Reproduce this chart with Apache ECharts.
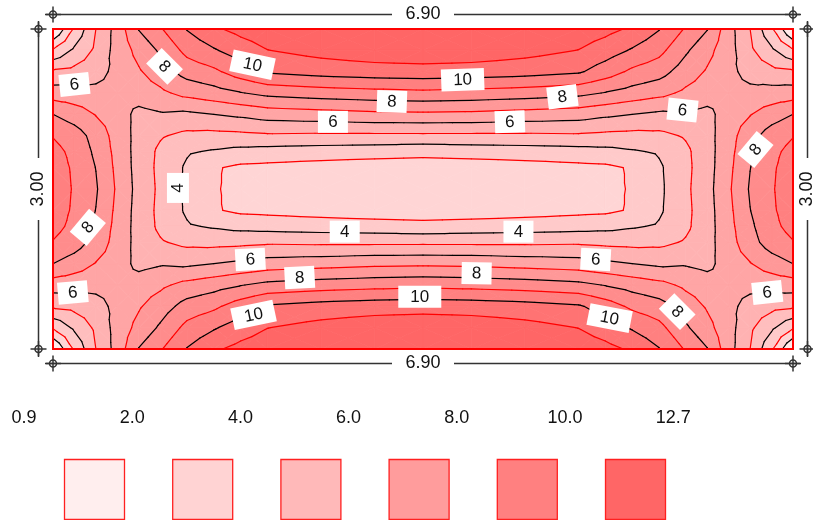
<!DOCTYPE html>
<html><head><meta charset="utf-8">
<script src="https://cdn.jsdelivr.net/npm/echarts@6/dist/echarts.min.js"></script>
<style>html,body{margin:0;padding:0;background:#fff}#chart{width:813px;height:520px}</style>
</head><body><div id="chart"></div>
<script>
// ---------------- DATA ----------------
const plateWidth = 6.90;
const plateHeight = 3.00;
const xNodes = [0, 0.2, 0.4, 0.6, 0.8, 1.0, 1.25, 1.5, 1.75, 2.0, 2.5, 3.0, 3.45, 3.9, 4.4, 4.9, 5.15, 5.4, 5.65, 5.9, 6.1, 6.3, 6.5, 6.7, 6.9];
const yNodes = [0, 0.2, 0.4, 0.6, 0.8, 1.0, 1.15, 1.3, 1.5, 1.7, 1.85, 2.0, 2.2, 2.4, 2.6, 2.8, 3.0];
const values = [
  [0.9, 3.15, 5.0, 6.4, 8.05, 8.9, 10.05, 10.85, 11.3, 11.6, 12.0, 12.3, 12.5, 12.3, 12.0, 11.6, 11.3, 10.85, 10.05, 8.9, 8.05, 6.4, 5.0, 3.15, 0.9],
  [3.1, 4.2, 5.2, 6.4, 7.3, 8.15, 9.3, 9.9, 10.5, 10.98, 11.35, 11.6, 11.7, 11.6, 11.35, 10.98, 10.5, 9.9, 9.3, 8.15, 7.3, 6.4, 5.2, 4.2, 3.1],
  [5.15, 5.3, 5.6, 6.3, 6.9, 7.5, 8.4, 8.8, 9.5, 10.13, 10.4, 10.55, 10.6, 10.55, 10.4, 10.13, 9.5, 8.8, 8.4, 7.5, 6.9, 6.3, 5.6, 5.3, 5.15],
  [6.5, 6.4, 6.3, 6.4, 6.5, 6.8, 7.3, 7.6, 7.95, 8.27, 8.5, 8.65, 8.75, 8.65, 8.5, 8.27, 7.95, 7.6, 7.3, 6.8, 6.5, 6.4, 6.3, 6.4, 6.5],
  [8.0, 7.5, 6.95, 6.5, 5.7, 5.9, 5.8, 6.0, 6.2, 6.45, 6.6, 6.75, 6.8, 6.75, 6.6, 6.45, 6.2, 6.0, 5.8, 5.9, 5.7, 6.5, 6.95, 7.5, 8.0],
  [8.95, 8.5, 7.6, 6.6, 5.65, 5.1, 4.75, 4.7, 4.75, 4.85, 4.8, 4.8, 4.8, 4.8, 4.8, 4.85, 4.75, 4.7, 4.75, 5.1, 5.65, 6.6, 7.6, 8.5, 8.95],
  [9.3, 8.75, 7.8, 6.68, 5.6, 4.8, 4.1, 3.9, 3.7, 3.6, 3.5, 3.4, 3.3, 3.4, 3.5, 3.6, 3.7, 3.9, 4.1, 4.8, 5.6, 6.68, 7.8, 8.75, 9.3],
  [9.5, 8.85, 7.98, 6.75, 5.6, 4.75, 3.85, 3.1, 2.8, 2.75, 2.6, 2.5, 2.5, 2.5, 2.6, 2.75, 2.8, 3.1, 3.85, 4.75, 5.6, 6.75, 7.98, 8.85, 9.5],
  [9.6, 8.9, 8.1, 6.85, 5.65, 4.8, 3.8, 3.1, 2.7, 2.55, 2.4, 2.3, 2.3, 2.3, 2.4, 2.55, 2.7, 3.1, 3.8, 4.8, 5.65, 6.85, 8.1, 8.9, 9.6],
  [9.5, 8.85, 7.98, 6.75, 5.6, 4.75, 3.85, 3.1, 2.8, 2.75, 2.6, 2.5, 2.5, 2.5, 2.6, 2.75, 2.8, 3.1, 3.85, 4.75, 5.6, 6.75, 7.98, 8.85, 9.5],
  [9.3, 8.75, 7.8, 6.68, 5.6, 4.8, 4.1, 3.9, 3.7, 3.6, 3.5, 3.4, 3.3, 3.4, 3.5, 3.6, 3.7, 3.9, 4.1, 4.8, 5.6, 6.68, 7.8, 8.75, 9.3],
  [8.95, 8.5, 7.6, 6.6, 5.65, 5.1, 4.75, 4.7, 4.75, 4.85, 4.8, 4.8, 4.8, 4.8, 4.8, 4.85, 4.75, 4.7, 4.75, 5.1, 5.65, 6.6, 7.6, 8.5, 8.95],
  [8.0, 7.5, 6.95, 6.5, 5.7, 5.9, 5.8, 6.0, 6.2, 6.45, 6.6, 6.75, 6.8, 6.75, 6.6, 6.45, 6.2, 6.0, 5.8, 5.9, 5.7, 6.5, 6.95, 7.5, 8.0],
  [6.5, 6.4, 6.3, 6.4, 6.5, 6.8, 7.3, 7.6, 7.95, 8.27, 8.5, 8.65, 8.75, 8.65, 8.5, 8.27, 7.95, 7.6, 7.3, 6.8, 6.5, 6.4, 6.3, 6.4, 6.5],
  [5.15, 5.3, 5.6, 6.3, 6.9, 7.5, 8.4, 8.8, 9.5, 10.13, 10.4, 10.55, 10.6, 10.55, 10.4, 10.13, 9.5, 8.8, 8.4, 7.5, 6.9, 6.3, 5.6, 5.3, 5.15],
  [3.1, 4.2, 5.2, 6.4, 7.3, 8.15, 9.3, 9.9, 10.5, 10.98, 11.35, 11.6, 11.7, 11.6, 11.35, 10.98, 10.5, 9.9, 9.3, 8.15, 7.3, 6.4, 5.2, 4.2, 3.1],
  [0.9, 3.15, 5.0, 6.4, 8.05, 8.9, 10.05, 10.85, 11.3, 11.6, 12.0, 12.3, 12.5, 12.3, 12.0, 11.6, 11.3, 10.85, 10.05, 8.9, 8.05, 6.4, 5.0, 3.15, 0.9]
];
const levels = [1, 2, 3, 4, 5, 6, 7, 8, 9, 10, 11];
const bandColors = ['#fff3f3', '#ffeaea', '#ffd5d5', '#ffcaca', '#ffbebe', '#ffb2b2', '#ffa5a5', '#ff9898', '#ff8c8c', '#ff8080', '#ff7373', '#ff6666'];

const labelX = [0.20, 1.04, 1.86, 3.82, 3.16, 4.75, 2.61, 4.26, 5.87, 6.55, 1.165, 0.325, 0.185, 2.72, 4.34, 1.84, 5.06, 2.30, 3.95, 3.42, 1.87, 5.19, 5.82, 6.66];
const labelY = [0.52, 0.35, 0.335, 0.475, 0.68, 0.635, 0.87, 0.87, 0.76, 1.13, 1.49, 1.86, 2.47, 1.90, 1.90, 2.16, 2.16, 2.33, 2.29, 2.51, 2.68, 2.71, 2.65, 2.47];
const labelText = ['6', '8', '10', '10', '8', '8', '6', '6', '6', '8', '4', '8', '6', '4', '4', '6', '6', '8', '8', '10', '10', '10', '8', '6'];
const labelAngle = [6, -45, -12, 2, -2, 7, 0, 2, -6, 50, 90, 50, 5, 0, 0, 3, -3, 3, -1, 0, 12, -11, -45, 6];

const legendBreaks = [0.9, 2.0, 4.0, 6.0, 8.0, 10.0, 12.7];
const legendColors = ['#ffeeee', '#ffd3d3', '#ffb9b9', '#ff9c9c', '#ff8080', '#ff6666'];

// ---------------- GEOMETRY ----------------
const FONT = '"Liberation Sans", Arial, sans-serif';
function buildTriangles() {
  const tris = [];
  for (let j = 0; j < yNodes.length - 1; j++) {
    for (let i = 0; i < xNodes.length - 1; i++) {
      const a = [xNodes[i], yNodes[j], values[j][i]];
      const b = [xNodes[i + 1], yNodes[j], values[j][i + 1]];
      const c = [xNodes[i + 1], yNodes[j + 1], values[j + 1][i + 1]];
      const d = [xNodes[i], yNodes[j + 1], values[j + 1][i]];
      const m = [(a[0] + b[0]) / 2, (a[1] + d[1]) / 2, (a[2] + b[2] + c[2] + d[2]) / 4];
      tris.push([a, b, m], [b, c, m], [c, d, m], [d, a, m]);
    }
  }
  return tris;
}
function clip(poly, level, keepAbove) {
  const out = [];
  for (let i = 0; i < poly.length; i++) {
    const P = poly[i], Q = poly[(i + 1) % poly.length];
    const pin = keepAbove ? P[2] >= level : P[2] <= level;
    const qin = keepAbove ? Q[2] >= level : Q[2] <= level;
    if (pin) out.push(P);
    if (pin !== qin) {
      const t = (level - P[2]) / (Q[2] - P[2]);
      out.push([P[0] + t * (Q[0] - P[0]), P[1] + t * (Q[1] - P[1]), level]);
    }
  }
  return out;
}
const tris = buildTriangles();
const bandPolys = bandColors.map((col, k) => {
  const lo = k === 0 ? -Infinity : levels[k - 1];
  const hi = k === levels.length ? Infinity : levels[k];
  const polys = [];
  tris.forEach(t => {
    let p = t;
    if (lo > -Infinity) p = clip(p, lo, true);
    if (p.length >= 3 && hi < Infinity) p = clip(p, hi, false);
    if (p.length >= 3) polys.push(p);
  });
  return polys;
});
function contourSegments(level) {
  const out = [];
  tris.forEach(t => {
    const pts = [];
    for (let e = 0; e < 3; e++) {
      const P = t[e], Q = t[(e + 1) % 3];
      const pa = P[2] >= level, qa = Q[2] >= level;
      if (pa !== qa) {
        const tt = (level - P[2]) / (Q[2] - P[2]);
        pts.push([P[0] + tt * (Q[0] - P[0]), P[1] + tt * (Q[1] - P[1])]);
      }
    }
    if (pts.length === 2) out.push(pts);
  });
  return out;
}
const levelSegs = levels.map(contourSegments);

// ---------------- CHART ----------------
const chart = echarts.init(document.getElementById('chart'), null, { renderer: 'canvas' });

function marker(x, y) {
  const st = { stroke: '#333', lineWidth: 1.5 };
  return [
    { type: 'circle', shape: { cx: x, cy: y, r: 3.5 }, style: { stroke: '#333', lineWidth: 1.5, fill: 'rgba(0,0,0,0)' } },
    { type: 'line', shape: { x1: x - 8, y1: y, x2: x + 8, y2: y }, style: st },
    { type: 'line', shape: { x1: x, y1: y - 8, x2: x, y2: y + 8 }, style: st }
  ];
}
function dimText(x, y, txt, rot) {
  return { type: 'text', x: x, y: y, rotation: rot || 0, style: { text: txt, x: 0, y: 0, align: 'center', verticalAlign: 'middle', fontSize: 18, fontFamily: FONT, fill: '#111' } };
}

const legendGraphics = [];
legendBreaks.forEach((b, i) => {
  legendGraphics.push({ type: 'text', x: 24 + i * 108.2, y: 418, style: { text: b.toFixed(1), align: 'center', verticalAlign: 'middle', fontSize: 18, fontFamily: FONT, fill: '#111' } });
});
legendColors.forEach((c, i) => {
  legendGraphics.push({ type: 'rect', x: 64.5 + i * 108.2, y: 459.5, shape: { x: 0, y: 0, width: 60, height: 60 }, style: { fill: c, stroke: '#ff2020', lineWidth: 1.3 } });
});

const option = {
  animation: false,
  grid: { left: 53, top: 29, width: 740, height: 320 },
  xAxis: { type: 'value', min: 0, max: plateWidth, show: false },
  yAxis: { type: 'value', min: 0, max: plateHeight, inverse: true, show: false },
  graphic: legendGraphics,
  series: [
    {
      type: 'custom', silent: true, z: 1,
      data: bandColors.map(() => [0, 0]),
      renderItem: (params, api) => {
        const k = params.dataIndex;
        return {
          type: 'group',
          children: bandPolys[k].map(poly => ({
            type: 'polygon',
            shape: { points: poly.map(p => api.coord([p[0], p[1]])) },
            style: { fill: bandColors[k], stroke: bandColors[k], lineWidth: 0.8 }
          }))
        };
      }
    },
    {
      type: 'custom', silent: true, z: 2,
      data: levels.map(() => [0, 0]),
      renderItem: (params, api) => {
        const k = params.dataIndex;
        const col = levels[k] % 2 === 0 ? '#000000' : '#ff0000';
        return {
          type: 'group',
          children: levelSegs[k].map(s => {
            const a = api.coord(s[0]), b = api.coord(s[1]);
            return { type: 'line', shape: { x1: a[0], y1: a[1], x2: b[0], y2: b[1] }, style: { stroke: col, lineWidth: 1.2, lineCap: 'round' } };
          })
        };
      }
    },
    {
      type: 'custom', silent: true, z: 4,
      data: labelX.map((x, i) => [x, labelY[i]]),
      renderItem: (params, api) => {
        const i = params.dataIndex;
        const pt = api.coord([labelX[i], labelY[i]]);
        const txt = labelText[i];
        const w = txt.length > 1 ? 43 : 30, h = 22;
        return {
          type: 'group', x: pt[0], y: pt[1], rotation: labelAngle[i] * Math.PI / 180,
          children: [
            { type: 'rect', shape: { x: -w / 2, y: -h / 2, width: w, height: h }, style: { fill: '#ffffff' } },
            { type: 'text', style: { text: txt, x: 0, y: 0.5, align: 'center', verticalAlign: 'middle', fontSize: 17, fontFamily: FONT, fill: '#111' } }
          ]
        };
      }
    },
    {
      type: 'custom', silent: true, z: 5,
      data: [[0, 0]],
      renderItem: (params, api) => {
        const p0 = api.coord([0, 0]);
        const p1 = api.coord([plateWidth, plateHeight]);
        const L = p0[0], T = p0[1], R = p1[0], B = p1[1];
        const off = 14.5, ext = 7, gap = 31;
        const cx = (L + R) / 2, cy = (T + B) / 2;
        const st = { stroke: '#333', lineWidth: 1.5 };
        const ch = [];
        ch.push({ type: 'rect', shape: { x: L, y: T, width: R - L, height: B - T }, style: { fill: 'rgba(0,0,0,0)', stroke: '#ff0000', lineWidth: 2 } });
        [T - off, B + off].forEach(y => {
          ch.push({ type: 'line', shape: { x1: L - ext, y1: y, x2: cx - gap, y2: y }, style: st });
          ch.push({ type: 'line', shape: { x1: cx + gap, y1: y, x2: R + ext, y2: y }, style: st });
          ch.push(...marker(L, y), ...marker(R, y));
          ch.push(dimText(cx, y, plateWidth.toFixed(2), 0));
        });
        [L - off, R + off].forEach(x => {
          ch.push({ type: 'line', shape: { x1: x, y1: T - ext, x2: x, y2: cy - gap }, style: st });
          ch.push({ type: 'line', shape: { x1: x, y1: cy + gap, x2: x, y2: B + ext }, style: st });
          ch.push(...marker(x, T), ...marker(x, B));
          ch.push(dimText(x, cy, plateHeight.toFixed(2), Math.PI / 2));
        });
        return { type: 'group', children: ch };
      }
    }
  ]
};
chart.setOption(option);
</script>
</body></html>
